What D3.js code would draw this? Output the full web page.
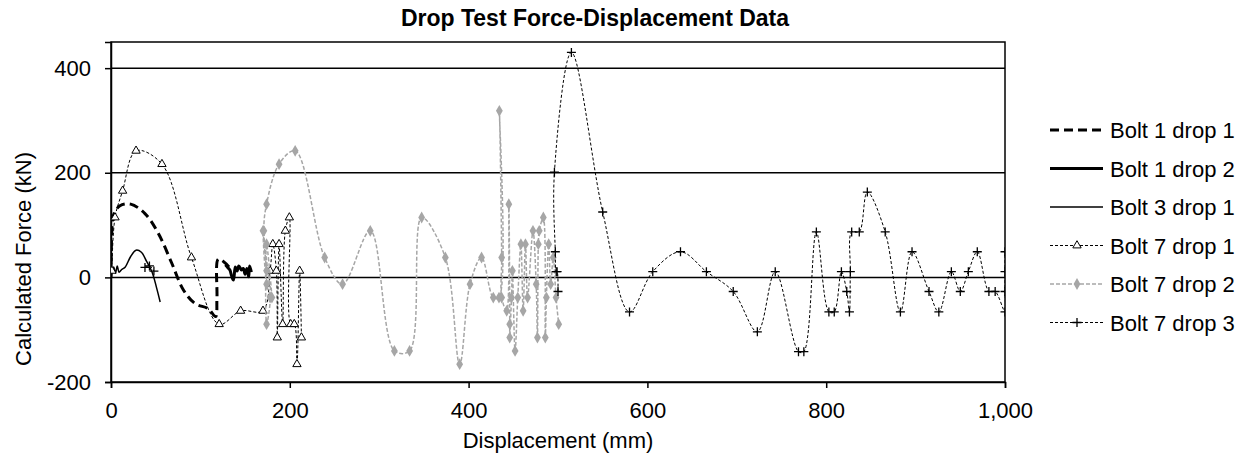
<!DOCTYPE html>
<html>
<head>
<meta charset="utf-8">
<script src="https://cdn.jsdelivr.net/npm/d3@7"></script>
<style>
  body { margin: 0; background: #fff; }
  svg text { font-family: "Liberation Sans", Arial, sans-serif; fill: #000; }
</style>
</head>
<body>
<svg id="chart" width="1245" height="457"></svg>
<script>
// ---- data (displacement mm, force kN) ----
const bolt1drop1_x = [0, 1, 3, 10, 22, 38, 53, 68, 81, 94, 109, 117, 118.5, 120, 126, 132];
const bolt1drop1_y = [0, 90, 120, 137, 140, 122, 84, 27, -24, -50, -60, -75, -40, 35, 30, 20];

const bolt1drop2_x = [128, 131, 133, 135, 137, 139, 141, 143, 146, 148, 150, 152, 154, 155, 157];
const bolt1drop2_y = [24, 18, 14, 2, -5, 20, 12, 22, 14, 17, 6, 17, 1, 22, 10];

const bolt3drop1_x = [0, 3, 5, 7, 9, 12, 16, 22, 28, 34, 40, 46, 51, 55];
const bolt3drop1_y = [0, 20, 8, 22, 10, 15, 20, 40, 52, 48, 30, 10, -20, -47];

const bolt7drop1_x = [1, 4.5, 13, 28, 57, 90, 121, 145, 170, 178, 181, 185, 186, 188, 192, 195, 199.5, 201, 205, 208, 211, 213];
const bolt7drop1_y = [12.5, 114.5, 165.5, 242, 216.5, 38, -89.5, -64, -64, 12.5, 63.5, 12.5, -115, 63.5, -89.5, 89, 114.5, -89.5, -89.5, -166, 12.5, -115];

const bolt7drop2_x = [174, 170, 174, 178, 174, 174, 180, 171, 174, 188, 206, 239, 259, 290, 317, 334, 347.5, 374, 390, 401.6, 414.5, 427.6,
  434, 434.4, 437, 437, 442.6, 445, 446, 446, 448, 449, 452, 455, 458.5, 461, 463.6, 466, 472, 475.6, 477, 478, 479, 483.6,
  485.8, 487, 489.6, 491.8, 494.7, 497.8, 500.8];
const bolt7drop2_y = [12.5, 89, -13, -38.5, -89.5, 63.5, -38.5, 89, 140, 216.5, 242, 38, -13, 89, -140.5, -140.5, 114.5, 38, -166, -13, 38, -38.5,
  -38.5, 318.5, 38, -38.5, -64, 140, -89.5, -115, -38.5, 12.5, -140.5, -38.5, 63.5, -64, 63.5, -38.5, 89, -13, -115, 63.5, 89, 114.5,
  -115, -38.5, 63.5, -13, 38, -38.5, -89.5];

const bolt7drop3_x = [38, 43, 48, null, 500, 499, 498, 497, 496, 515, 550, 580, 606, 637, 666, 696, 723, 743, 769, 775, 789, 803, 809, 817,
  823, 826, 827, 828.5, 837, 846, 866, 883, 896, 915, 926, 940, 950, 959, 969, 982, 989, 1000, 1000, 1000, 1000];
const bolt7drop3_y = [19, 22, 12, null, -27, 11, 11, 49, 201, 430, 125, -66, 11, 49, 11, -27, -104, 11, -142, -142, 87, -66, -66, 11,
  -27, -66, 11, 87, 87, 163, 87, -66, 49, -27, -66, 11, -27, 11, 49, -27, -27, -66, -27, 11, 49];

const seriesNames = ["Bolt 1 drop 1", "Bolt 1 drop 2", "Bolt 3 drop 1", "Bolt 7 drop 1", "Bolt 7 drop 2", "Bolt 7 drop 3"];
const xTicks = [0, 200, 400, 600, 800, 1000];
const yTicks = [-200, 0, 200, 400];

// ---- layout ----
const svg = d3.select("#chart");
const plotLeft = 111, plotRight = 1005, plotTop = 42, plotBottom = 382;

const x = d3.scaleLinear().domain([0, 1000]).range([plotLeft, plotRight]);
const y = d3.scaleLinear().domain([-200, 450]).range([plotBottom, plotTop]);

function zip(xs, ys) {
  return xs.map((d, i) => (d === null ? null : [d, ys[i]]));
}

const series = [
  { name: seriesNames[0], pts: zip(bolt1drop1_x, bolt1drop1_y), color: "#000", width: 3, dash: "9,5", marker: null },
  { name: seriesNames[1], pts: zip(bolt1drop2_x, bolt1drop2_y), color: "#000", width: 3, dash: null, marker: null },
  { name: seriesNames[2], pts: zip(bolt3drop1_x, bolt3drop1_y), color: "#000", width: 1.5, dash: null, marker: null },
  { name: seriesNames[3], pts: zip(bolt7drop1_x, bolt7drop1_y), color: "#000", width: 1, dash: "3,2", marker: "triangle" },
  { name: seriesNames[4], pts: zip(bolt7drop2_x, bolt7drop2_y), color: "#a6a6a6", width: 1.5, dash: "4,2", marker: "diamond" },
  { name: seriesNames[5], pts: zip(bolt7drop3_x, bolt7drop3_y), color: "#000", width: 1, dash: "3,2", marker: "plus" }
];

// gridlines
svg.append("g")
  .selectAll("line")
  .data(yTicks.filter(t => t > -200))
  .join("line")
  .attr("x1", plotLeft).attr("x2", plotRight)
  .attr("y1", d => y(d)).attr("y2", d => y(d))
  .attr("stroke", "#000").attr("stroke-width", 1.5);

// plot border
svg.append("rect")
  .attr("x", plotLeft).attr("y", plotTop)
  .attr("width", plotRight - plotLeft).attr("height", plotBottom - plotTop)
  .attr("fill", "none").attr("stroke", "#000").attr("stroke-width", 1.5);

// axes
const xAxis = svg.append("g")
  .attr("transform", `translate(0,${plotBottom})`)
  .call(d3.axisBottom(x).tickValues(xTicks).tickSize(6).tickPadding(14).tickFormat(d3.format(",")));
const yAxis = svg.append("g")
  .attr("transform", `translate(${plotLeft},0)`)
  .call(d3.axisLeft(y).tickValues(yTicks).tickSize(6).tickPadding(14).tickFormat(d => d < 0 ? "-" + Math.abs(d) : d));
[xAxis, yAxis].forEach(g => {
  g.select(".domain").attr("stroke", "#000").attr("stroke-width", 1.5);
  g.selectAll(".tick line").attr("stroke", "#000").attr("stroke-width", 1.5);
  g.selectAll(".tick text").attr("font-size", 22).attr("fill", "#000")
    .style("font-family", '"Liberation Sans", Arial, sans-serif');
});

// clip
svg.append("clipPath").attr("id", "plotclip")
  .append("rect").attr("x", plotLeft).attr("y", plotTop).attr("width", plotRight - plotLeft).attr("height", plotBottom - plotTop);

// smoothed lines, centripetal to keep overshoot close to Excel's
const line = d3.line()
  .defined(d => d !== null)
  .x(d => x(d[0])).y(d => y(d[1]))
  .curve(d3.curveCatmullRom.alpha(0.5));

const markerPath = {
  triangle: d3.symbol().type(d3.symbolTriangle).size(30)(),
  diamond: d3.symbol().type(d3.symbolDiamond).size(40)(),
  plus: "M-4.5,0H4.5M0,-4.5V4.5"
};

function styleMarker(sel, s) {
  if (s.marker === "triangle") sel.attr("fill", "#fff").attr("stroke", "#000").attr("stroke-width", 1);
  else if (s.marker === "diamond") sel.attr("fill", s.color).attr("stroke", "none");
  else sel.attr("fill", "none").attr("stroke", "#000").attr("stroke-width", 1.3);
}

const plot = svg.append("g").attr("clip-path", "url(#plotclip)");

series.forEach(s => {
  plot.append("path")
    .attr("d", line(s.pts))
    .attr("fill", "none")
    .attr("stroke", s.color)
    .attr("stroke-width", s.width)
    .attr("stroke-dasharray", s.dash);
  if (s.marker) {
    const m = plot.append("g").selectAll("path")
      .data(s.pts.filter(d => d !== null))
      .join("path")
      .attr("d", markerPath[s.marker])
      .attr("transform", d => `translate(${x(d[0])},${y(d[1])})`);
    styleMarker(m, s);
  }
});

// titles
svg.append("text")
  .attr("x", 595).attr("y", 26)
  .attr("text-anchor", "middle").attr("font-size", 23).attr("font-weight", "bold")
  .text("Drop Test Force-Displacement Data");
svg.append("text")
  .attr("x", (plotLeft + plotRight) / 2).attr("y", 448)
  .attr("text-anchor", "middle").attr("font-size", 22)
  .text("Displacement (mm)");
svg.append("text")
  .attr("transform", "translate(31,259) rotate(-90)")
  .attr("text-anchor", "middle").attr("font-size", 22)
  .text("Calculated Force (kN)");

// legend
const legend = svg.append("g");
series.forEach((s, i) => {
  const ly = 130 + i * 38.5;
  legend.append("line")
    .attr("x1", 1050).attr("x2", 1103).attr("y1", ly).attr("y2", ly)
    .attr("stroke", s.color).attr("stroke-width", s.width)
    .attr("stroke-dasharray", s.dash);
  if (s.marker) {
    const m = legend.append("path")
      .attr("d", markerPath[s.marker])
      .attr("transform", `translate(1077,${ly})`);
    styleMarker(m, s);
  }
  legend.append("text")
    .attr("x", 1110).attr("y", ly + 8)
    .attr("font-size", 22)
    .text(s.name);
});
</script>
</body>
</html>
